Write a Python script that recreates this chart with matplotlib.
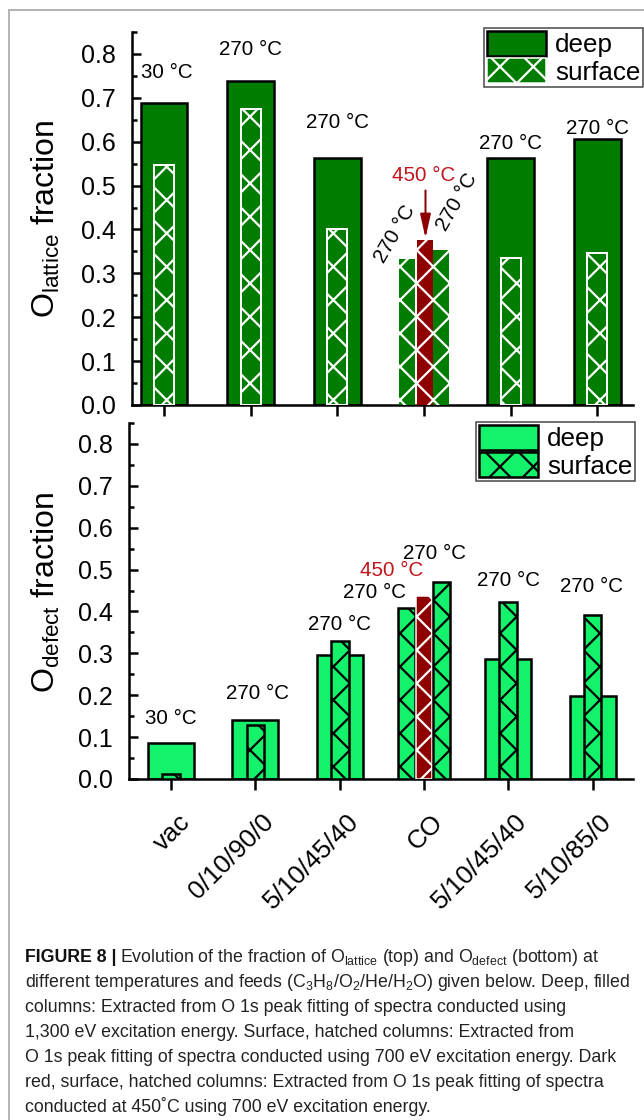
import matplotlib
matplotlib.use('Agg')
import matplotlib.pyplot as plt
import numpy as np
from matplotlib.patches import Patch
from matplotlib.lines import Line2D
from matplotlib.ticker import FixedLocator, FormatStrFormatter
from matplotlib.transforms import ScaledTranslation

plt.rcParams['font.family'] = ['Liberation Sans', 'DejaVu Sans']
plt.rcParams['mathtext.fontset'] = 'custom'
plt.rcParams['mathtext.rm'] = 'Liberation Sans'
plt.rcParams['mathtext.it'] = 'Liberation Sans:italic'
plt.rcParams['mathtext.bf'] = 'Liberation Sans:bold'
plt.rcParams['hatch.linewidth'] = 1.6

# feeds C3H8/O2/He/H2O
feeds = ['vac', '0/10/90/0', '5/10/45/40', 'CO', '5/10/45/40', '5/10/85/0']
temps = ['30 °C', '270 °C', '270 °C', '', '270 °C', '270 °C']
co_temps = ['270 °C', '450 °C', '270 °C']

# O lattice (top)
lat_deep = [0.689, 0.739, 0.562, np.nan, 0.563, 0.607]
lat_surf = [0.548, 0.675, 0.400, np.nan, 0.335, 0.347]
lat_co = [0.332, 0.375, 0.354]   # surface: 270, 450, 270 °C

# O defect (bottom)
def_deep = [0.087, 0.142, 0.295, np.nan, 0.286, 0.198]
def_surf = [0.013, 0.128, 0.330, np.nan, 0.422, 0.392]
def_co = [0.409, 0.438, 0.470]

caption = [
    'different temperatures and feeds (C$_{3}$H$_{8}$/O$_{2}$/He/H$_{2}$O) given below. Deep, filled',
    'columns: Extracted from O 1s peak fitting of spectra conducted using',
    '1,300 eV excitation energy. Surface, hatched columns: Extracted from',
    'O 1s peak fitting of spectra conducted using 700 eV excitation energy. Dark',
    'red, surface, hatched columns: Extracted from O 1s peak fitting of spectra',
    'conducted at 450˚C using 700 eV excitation energy.',
]

W, H, DPI = 644, 1120, 100


def pt(px):
    return px * 72 / DPI


dgreen = '#007c00'
lgreen = '#14f26c'
red = '#8e0000'

fig = plt.figure(figsize=(W / DPI, H / DPI), dpi=DPI)
ax1 = fig.add_axes([132 / W, 1 - 405 / H, 501 / W, 373 / H])
ax2 = fig.add_axes([129 / W, 1 - 779 / H, 504 / W, 356 / H])

x = np.arange(len(feeds))
idx = [i for i in range(len(feeds)) if feeds[i] != 'CO']
ico = feeds.index('CO')

# ---- top panel
ax1.bar(x[idx], np.array(lat_deep)[idx], width=0.54, color=dgreen,
        edgecolor='black', linewidth=pt(2.5), zorder=2)
ax1.bar(x[idx], np.array(lat_surf)[idx], width=0.23, color=dgreen,
        edgecolor='white', linewidth=pt(2), hatch='x', zorder=3)
ax1.bar(ico + np.array([-0.195, 0.01, 0.2]), lat_co, width=0.185,
        color=[dgreen, red, dgreen], edgecolor='white', linewidth=0,
        hatch='x', zorder=3)

tpos1 = {0: (0.035, 0.757), 1: (1.0, 0.81), 2: (2.0, 0.644),
         4: (4.0, 0.596), 5: (5.0, 0.631)}
for i, (tx, ty) in tpos1.items():
    ax1.text(tx, ty, temps[i], ha='center', va='center', fontsize=pt(20.5))
ax1.text(2.66, 0.389, co_temps[0], rotation=60, ha='center', va='center',
         fontsize=pt(20.5))
ax1.text(2.99, 0.523, co_temps[1], color='#c0161c', ha='center', va='center',
         fontsize=pt(20.5))
ax1.text(3.38, 0.462, co_temps[2], rotation=60, ha='center', va='center',
         fontsize=pt(20.5))
ax1.annotate('', xy=(3.016, 0.38), xytext=(3.016, 0.489),
             arrowprops=dict(arrowstyle='-|>,head_length=1.0,head_width=0.22',
                             color=red, lw=pt(2), mutation_scale=pt(20),
                             shrinkA=0, shrinkB=0))

ax1.legend([Patch(fc=dgreen, ec='black', lw=pt(2.5)),
            Patch(fc=dgreen, ec='white', lw=pt(1.5), hatch='x')],
           ['deep', 'surface'], loc='upper right',
           bbox_to_anchor=(643 / W, 1 - 28 / H), bbox_transform=fig.transFigure,
           fontsize=pt(26), fancybox=False, edgecolor='#444444', framealpha=1,
           borderpad=0.1, labelspacing=0.05, handlelength=2.27,
           handleheight=1.1, handletextpad=0.35, borderaxespad=0
           ).get_frame().set_linewidth(pt(1.5))

ax1.set_xlim(-0.37, 5.41)
ax1.set_ylabel('O$_{\\mathrm{lattice}}$ fraction', fontsize=pt(32))
ax1.yaxis.set_label_coords(-0.14, 0.5)

# ---- bottom panel
ax2.bar(x[idx], np.array(def_deep)[idx], width=0.545, color=lgreen,
        edgecolor='black', linewidth=pt(2.5), zorder=2)
ax2.bar(x[idx], np.array(def_surf)[idx], width=0.21, color=lgreen,
        edgecolor='black', linewidth=pt(2.5), hatch='x', zorder=3)
for off, v, c in zip([-0.205, 0.0, 0.205], def_co, [lgreen, red, lgreen]):
    ax2.bar(ico + off, v, width=0.2, color=c,
            edgecolor='white' if c == red else 'black',
            linewidth=pt(1.5) if c == red else pt(2.5), hatch='x', zorder=3)

tpos2 = {0: (0.0, 0.145), 1: (1.03, 0.203), 2: (2.0, 0.368),
         4: (4.0, 0.474), 5: (4.99, 0.459)}
for i, (tx, ty) in tpos2.items():
    ax2.text(tx, ty, temps[i], ha='center', va='center', fontsize=pt(20.5))
ax2.text(2.41, 0.445, co_temps[0], ha='center', va='center', fontsize=pt(20.5))
ax2.text(2.62, 0.497, co_temps[1], color='#c0161c', ha='center', va='center',
         fontsize=pt(20.5))
ax2.text(3.12, 0.538, co_temps[2], ha='center', va='center', fontsize=pt(20.5))

ax2.legend([Patch(fc=lgreen, ec='black', lw=pt(2.5)),
            Patch(fc=lgreen, ec='black', lw=pt(2.5), hatch='x')],
           ['deep', 'surface'], loc='upper right',
           bbox_to_anchor=(635 / W, 1 - 422 / H), bbox_transform=fig.transFigure,
           fontsize=pt(26), fancybox=False, edgecolor='#444444', framealpha=1,
           borderpad=0.1, labelspacing=0.05, handlelength=2.27,
           handleheight=1.1, handletextpad=0.35, borderaxespad=0
           ).get_frame().set_linewidth(pt(1.5))

ax2.set_xlim(-0.5, 5.48)
ax2.set_ylabel('O$_{\\mathrm{defect}}$ fraction', fontsize=pt(32))
ax2.yaxis.set_label_coords(-0.133, 0.524)

lab_tr = ax2.get_xaxis_transform() + ScaledTranslation(15 / DPI, -39 / DPI,
                                                        fig.dpi_scale_trans)
for i, f in enumerate(feeds):
    ax2.text(i, 0, f, transform=lab_tr, rotation=45, rotation_mode='anchor',
             ha='right', va='center', fontsize=pt(26))

# ---- common axis styling
for ax in (ax1, ax2):
    ax.set_ylim(0, 0.85)
    ax.set_xticks(x)
    ax.set_xticklabels([])
    ax.yaxis.set_major_locator(FixedLocator(np.arange(0, 0.81, 0.1)))
    ax.yaxis.set_minor_locator(FixedLocator(np.arange(0.05, 0.86, 0.1)))
    ax.yaxis.set_major_formatter(FormatStrFormatter('%.1f'))
    for s in ('top', 'right'):
        ax.spines[s].set_visible(False)
    for s in ('left', 'bottom'):
        ax.spines[s].set_linewidth(pt(2.5))
    ax.tick_params(axis='y', which='major', direction='in', length=pt(9),
                   width=pt(2.5), labelsize=pt(25), pad=pt(16))
    ax.tick_params(axis='y', which='minor', direction='in', length=pt(5),
                   width=pt(2.5))
    ax.tick_params(axis='x', direction='out', length=pt(11), width=pt(2.5))

# ---- frame and caption
fig.add_artist(Line2D([9 / W, 9 / W], [0, 1 - 10 / H], color='#b4b4b4',
                      lw=pt(2), transform=fig.transFigure))
fig.add_artist(Line2D([9 / W, 1], [1 - 10 / H, 1 - 10 / H], color='#b4b4b4',
                      lw=pt(2), transform=fig.transFigure))

renderer = fig.canvas.get_renderer()
cap_font = ['Liberation Sans Narrow', 'Liberation Sans']
fs_cap = pt(19)
lines = []
for k, line in enumerate(caption):
    lines.append(fig.text(25 / W, 1 - (987 + 25 * k) / H, line, family=cap_font,
                          fontsize=fs_cap, va='baseline', color='#222222'))
# fit the longest line to the caption width of the reference
scale = 603 / lines[0].get_window_extent(renderer).width
fs_cap *= scale
for t in lines:
    t.set_fontsize(fs_cap)
t0 = fig.text(25 / W, 1 - 962 / H, 'FIGURE 8 |', family=cap_font,
              fontweight='bold', fontsize=fs_cap, va='baseline', color='#111111')
bb = t0.get_window_extent(renderer)
fig.text(bb.x1 / W + 3 / W, 1 - 962 / H,
         'Evolution of the fraction of O$_{\\mathrm{lattice}}$ (top) and '
         'O$_{\\mathrm{defect}}$ (bottom) at',
         family=cap_font, fontsize=fs_cap, va='baseline', color='#222222')

fig.savefig('out.png', dpi=DPI)
